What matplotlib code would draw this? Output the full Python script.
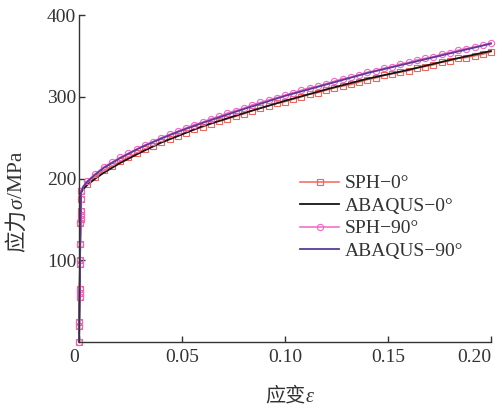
import matplotlib
matplotlib.use('Agg')
import matplotlib.pyplot as plt

plt.rcParams['font.family'] = ['Liberation Serif', 'Noto Sans CJK SC', 'DejaVu Sans']

# elastic part (same sample points for both SPH runs)
elastic_strain = [0, 0.0001, 0.000125, 0.000275, 0.0003, 0.000325, 0.000475, 0.0005,
                  0.0006, 0.000725, 0.00075, 0.000775, 0.0008, 0.000875, 0.000925]
elastic_stress = [0, 20, 25, 55, 60, 65, 95, 100, 120, 145, 150, 155, 160, 175, 185]

# plastic part, SPH sample points
sph_strain = [0.004, 0.008, 0.012, 0.016, 0.020, 0.024, 0.028, 0.032, 0.036, 0.040,
              0.044, 0.048, 0.052, 0.056, 0.060, 0.064, 0.068, 0.072, 0.076, 0.080,
              0.084, 0.088, 0.092, 0.096, 0.100, 0.104, 0.108, 0.112, 0.116, 0.120,
              0.124, 0.128, 0.132, 0.136, 0.140, 0.144, 0.148, 0.152, 0.156, 0.160,
              0.164, 0.168, 0.172, 0.176, 0.180, 0.184, 0.188, 0.192, 0.196, 0.200]
sph_0 = [193, 202, 210, 215, 221, 226, 231, 236, 240, 245,
         248, 252, 256, 260, 263, 267, 270, 273, 276, 279,
         283, 286, 289, 292, 294, 297, 300, 303, 305, 308,
         311, 313, 315, 318, 321, 323, 326, 328, 330, 332,
         335, 337, 339, 342, 344, 347, 348, 350, 352, 355]
sph_90 = [197, 206, 214, 220, 226, 231, 236, 241, 245, 250,
          254, 258, 262, 266, 269, 273, 276, 280, 283, 286,
          290, 293, 296, 299, 302, 305, 308, 311, 313, 316,
          319, 322, 324, 327, 330, 332, 335, 337, 340, 342,
          345, 347, 349, 352, 354, 357, 359, 361, 363, 366]

abq_strain = [0, 0.0009, 0.002, 0.004, 0.008, 0.012, 0.016, 0.02, 0.03, 0.04,
              0.05, 0.06, 0.08, 0.10, 0.12, 0.14, 0.16, 0.18, 0.20]
abq_0 = [0, 182, 187, 192, 200, 207, 213, 219, 232, 244,
         254, 264, 280, 295, 309, 322, 333, 345, 356]
abq_90 = [0, 182, 190, 196, 205, 213, 219, 225, 238, 249,
          259, 268, 285, 301, 315, 329, 341, 353, 365]

c_sph0 = '#f2645a'
c_abq0 = '#151515'
c_sph90 = '#f266c4'
c_abq90 = '#5a3a98'
txt = '#333333'

fig = plt.figure(figsize=(5.04, 4.13), dpi=100)
ax = fig.add_axes([79 / 504, 71 / 413, 412 / 504, 327 / 413])

ax.plot(elastic_strain + sph_strain, elastic_stress + sph_0, color=c_sph0, lw=1.1,
        marker='s', ms=4, mfc='none', mew=0.8, clip_on=False, label='SPH−0°')
ax.plot(abq_strain, abq_0, color=c_abq0, lw=1.3, clip_on=False, label='ABAQUS−0°')
ax.plot(elastic_strain + sph_strain, elastic_stress + sph_90, color=c_sph90, lw=1.1,
        marker='o', ms=4.5, mfc='none', mew=0.8, clip_on=False, label='SPH−90°')
ax.plot(abq_strain, abq_90, color=c_abq90, lw=1.3, clip_on=False, label='ABAQUS−90°')

ax.set_xlim(0, 0.2)
ax.set_ylim(0, 400)
ax.set_xticks([0, 0.05, 0.10, 0.15, 0.20])
ax.set_xticklabels(['0', '0.05', '0.10', '0.15', '0.20'])
ax.set_yticks([100, 200, 300, 400])
ax.spines['top'].set_visible(False)
ax.spines['right'].set_visible(False)
for s in ('left', 'bottom'):
    ax.spines[s].set_color(txt)
    ax.spines[s].set_linewidth(1.0)
ax.tick_params(direction='in', length=4, width=1.0, labelsize=14, color=txt,
               labelcolor=txt)
ax.tick_params(axis='x', pad=5)
ax.tick_params(axis='y', pad=2)
xl = ax.get_xticklabels()
xl[0].set_horizontalalignment('right')
xl[-1].set_horizontalalignment('right')

ax.legend(loc='upper left', bbox_to_anchor=(0.518, 0.535), frameon=False, fontsize=14,
          handlelength=2.0, handletextpad=0.3, labelspacing=0.25, numpoints=1,
          borderaxespad=0, labelcolor=txt)

# axis titles built from pieces so the greek letters can be italic
renderer = fig.canvas.get_renderer()

def place_pieces(pieces, x0, y0, rotation, size):
    # pieces: list of (text, style); x0, y0 in figure pixels
    x, y = x0, y0
    for s, style in pieces:
        t = fig.text(x / 504, y / 413, s, fontsize=size, style=style, color=txt,
                     rotation=rotation, rotation_mode='anchor',
                     ha='left', va='center')
        bb = t.get_window_extent(renderer)
        if rotation == 0:
            x += bb.width
        else:
            y += bb.height

place_pieces([('应变', 'normal'), ('ε', 'italic')], 265, 413 - 397, 0, 14.5)
place_pieces([('应力', 'normal'), ('σ', 'italic'), ('/MPa', 'normal')], 18, 413 - 252, 90, 15.5)

fig.savefig('out.png', dpi=100)
